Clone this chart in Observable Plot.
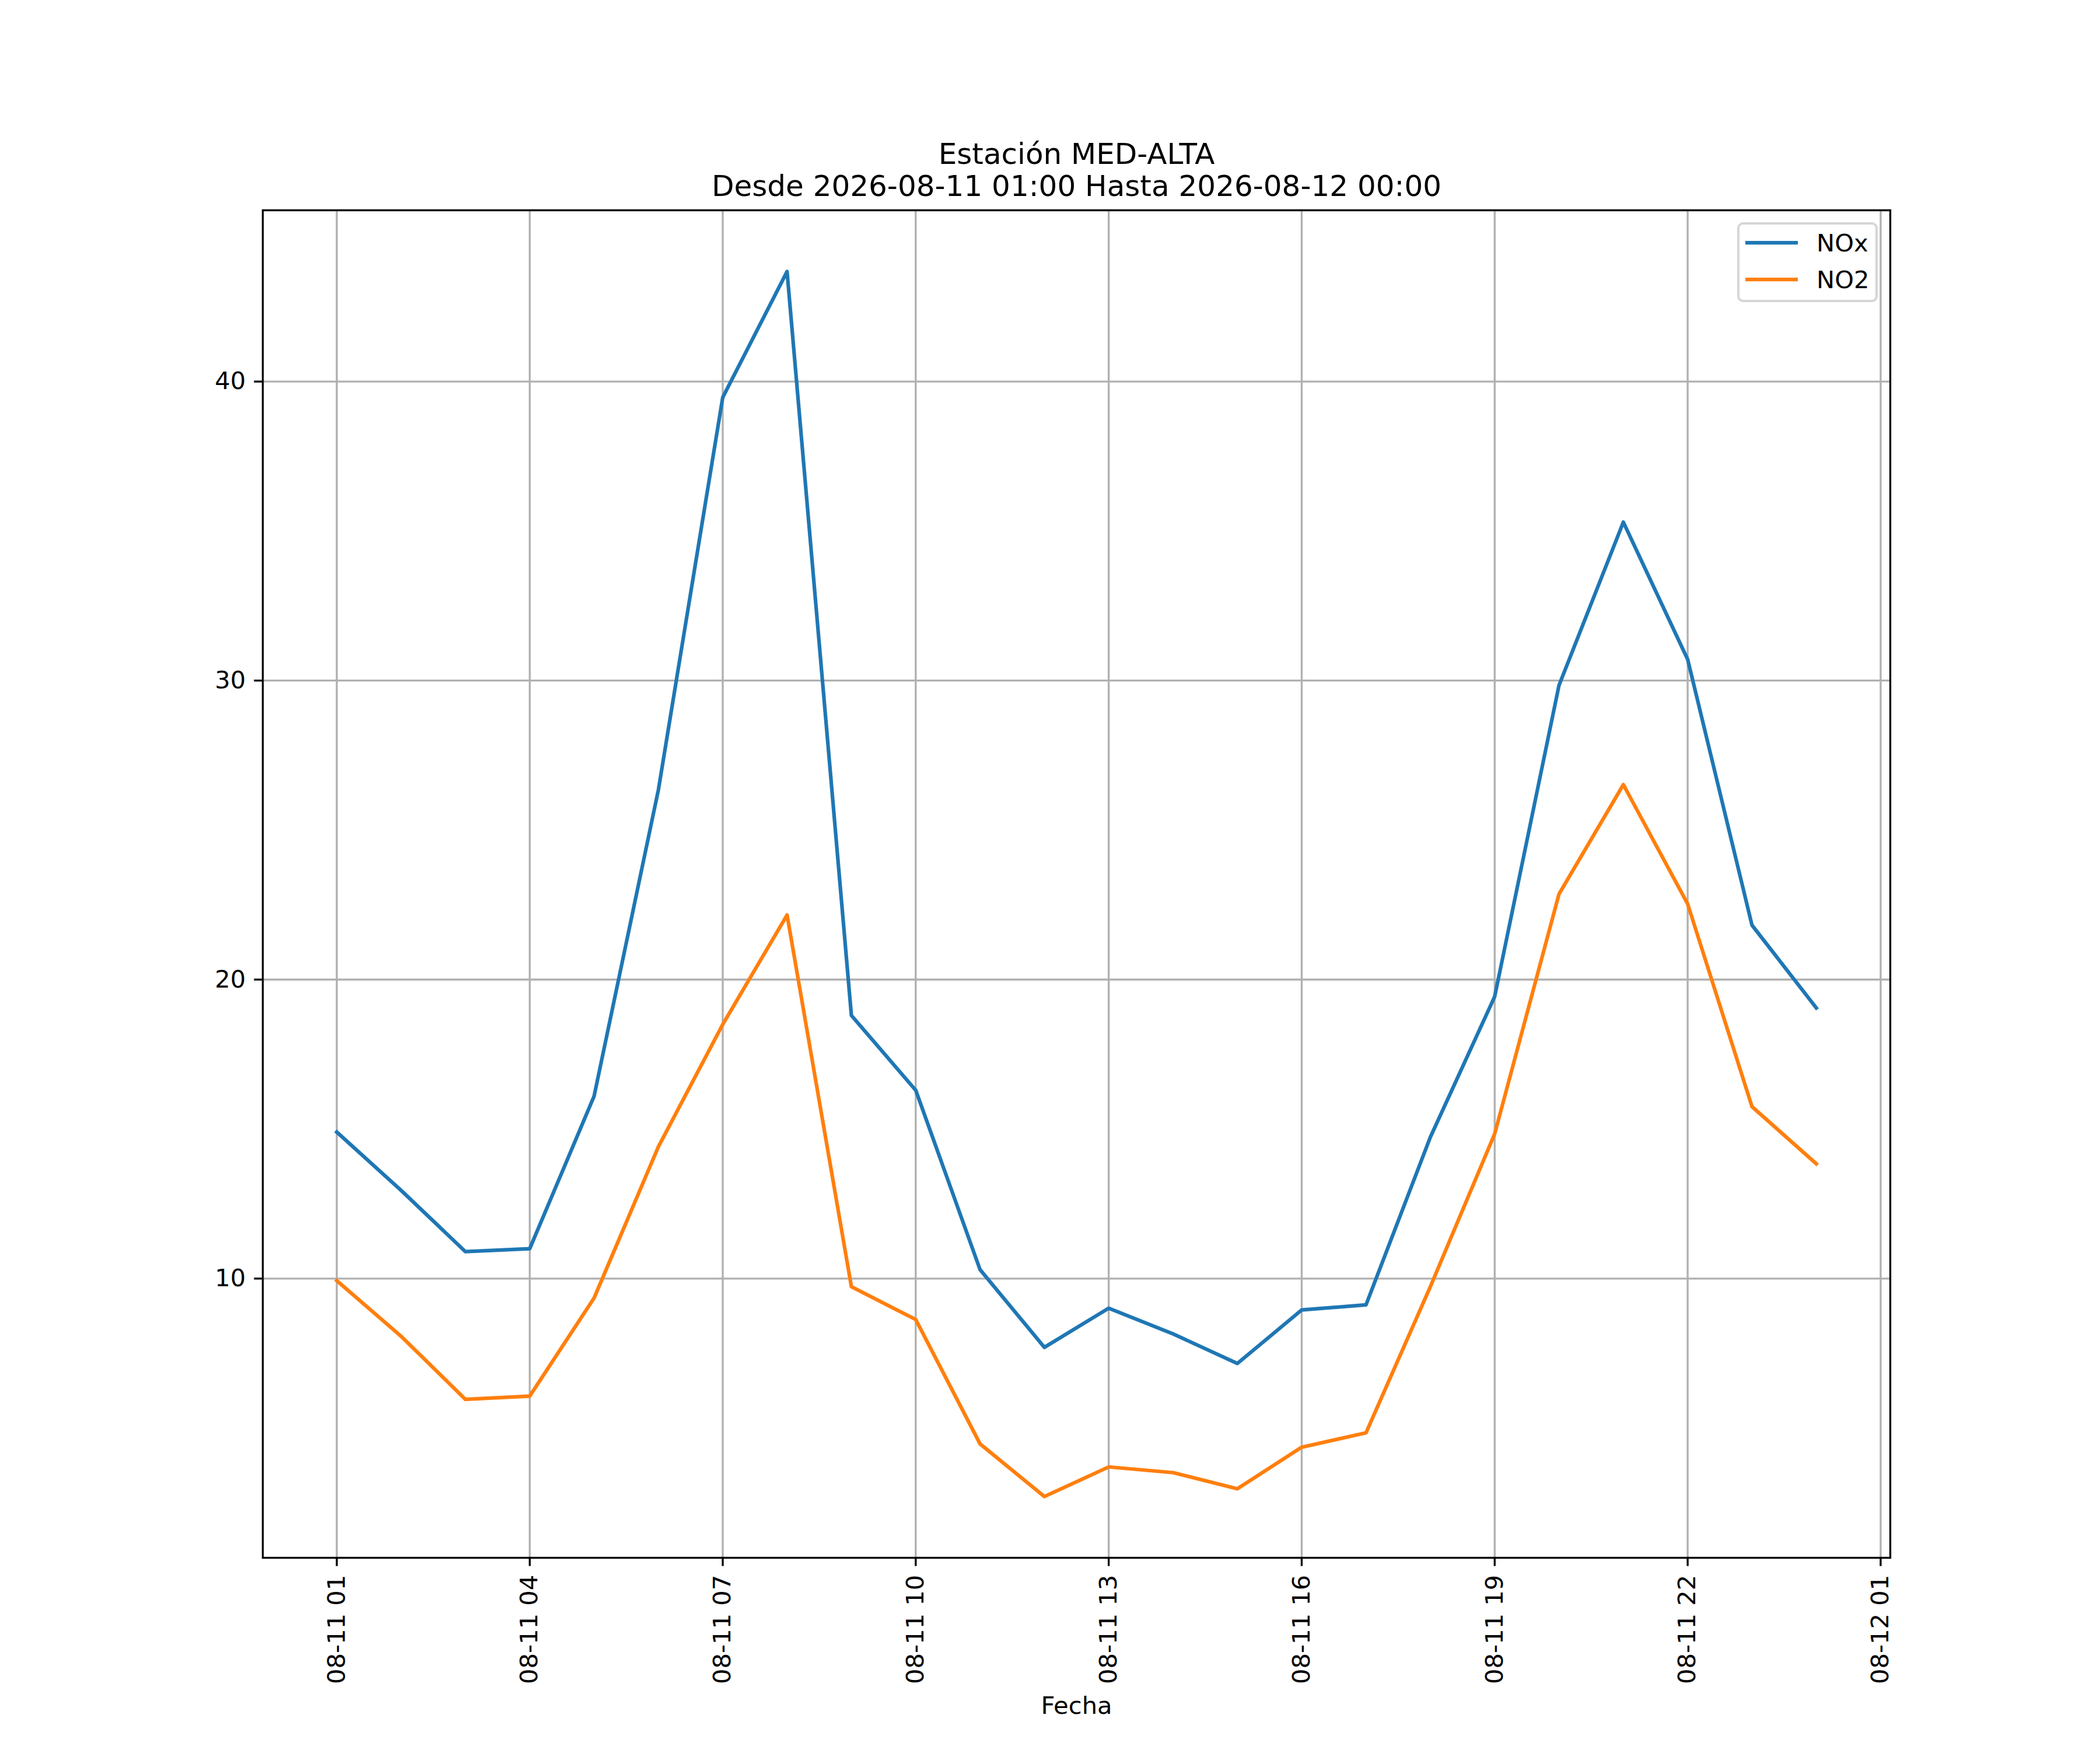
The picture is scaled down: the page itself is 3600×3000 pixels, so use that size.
<!DOCTYPE html>
<html>
<head>
<meta charset="utf-8">
<script src="https://cdn.jsdelivr.net/npm/d3@7"></script>
<script src="https://cdn.jsdelivr.net/npm/@observablehq/plot@0.6"></script>
<style>
  body { margin: 0; background: #ffffff; }
  #chart { position: relative; width: 3600px; height: 3000px; background: #ffffff; font-family: "DejaVu Sans"; }
  #legend { position: absolute; left: 2978px; top: 381px; }
</style>
</head>
<body>
<div id="chart"></div>
<script>
// ---- data ----
const times = [
  "2026-08-11T01:00Z", "2026-08-11T02:00Z", "2026-08-11T03:00Z", "2026-08-11T04:00Z",
  "2026-08-11T05:00Z", "2026-08-11T06:00Z", "2026-08-11T07:00Z", "2026-08-11T08:00Z",
  "2026-08-11T09:00Z", "2026-08-11T10:00Z", "2026-08-11T11:00Z", "2026-08-11T12:00Z",
  "2026-08-11T13:00Z", "2026-08-11T14:00Z", "2026-08-11T15:00Z", "2026-08-11T16:00Z",
  "2026-08-11T17:00Z", "2026-08-11T18:00Z", "2026-08-11T19:00Z", "2026-08-11T20:00Z",
  "2026-08-11T21:00Z", "2026-08-11T22:00Z", "2026-08-11T23:00Z", "2026-08-12T00:00Z"
];
const nox = [14.9, 12.95, 10.9, 11.0, 16.1, 26.35, 39.47, 43.68,
             18.8, 16.3, 10.3, 7.7, 9.01, 8.15, 7.16, 8.95,
             9.12, 14.73, 19.43, 29.84, 35.3, 30.71, 21.82, 19.05];
const no2 = [9.93, 8.07, 5.96, 6.07, 9.35, 14.41, 18.5, 22.16,
             9.73, 8.63, 4.47, 2.71, 3.70, 3.51, 2.97, 4.36,
             4.84, 9.73, 14.84, 22.86, 26.52, 22.53, 15.75, 13.84];
const seriesNames = ["NOx", "NO2"];
const seriesColors = ["#1f77b4", "#ff7f0e"];
const titleLines = ["Estación MED-ALTA", "Desde 2026-08-11 01:00 Hasta 2026-08-12 00:00"];
const xLabel = "Fecha";
const yTicks = [10, 20, 30, 40];
const xTicks = [
  "2026-08-11T01:00Z", "2026-08-11T04:00Z", "2026-08-11T07:00Z", "2026-08-11T10:00Z",
  "2026-08-11T13:00Z", "2026-08-11T16:00Z", "2026-08-11T19:00Z", "2026-08-11T22:00Z",
  "2026-08-12T01:00Z"
];

// ---- build table ----
const dates = times.map(t => new Date(t));
const rows = [];
[nox, no2].forEach((vals, s) => {
  vals.forEach((v, i) => rows.push({time: dates[i], value: v, series: seriesNames[s]}));
});
const xTickDates = xTicks.map(t => new Date(t));

// matplotlib-like autoscale with 5% margins
const pad = (lo, hi) => { const d = (hi - lo) * 0.05; return [lo - d, hi + d]; };
const [t0, t1] = d3.extent(dates, d => +d);
const xDomain = pad(t0, t1).map(v => new Date(v));
const allVals = nox.concat(no2);
const yDomain = pad(d3.min(allVals), d3.max(allVals));

const pt = 300 / 72;  // px per point
const tickFont = 10 * pt;

const chart = Plot.plot({
  width: 3600,
  height: 3000,
  marginLeft: 450,
  marginRight: 360,
  marginTop: 360,
  marginBottom: 330,
  style: {fontFamily: "DejaVu Sans", fontSize: `${tickFont}px`, color: "black", background: "white", overflow: "visible"},
  x: {type: "utc", domain: xDomain},
  y: {domain: yDomain},
  color: {domain: seriesNames, range: seriesColors},
  marks: [
    Plot.gridX(xTickDates, {stroke: "#b0b0b0", strokeOpacity: 1, strokeWidth: 0.8 * pt}),
    Plot.gridY(yTicks, {stroke: "#b0b0b0", strokeOpacity: 1, strokeWidth: 0.8 * pt}),
    Plot.line(rows, {x: "time", y: "value", z: "series", stroke: "series",
      strokeWidth: 1.5 * pt, strokeLinejoin: "round", strokeLinecap: "square"}),
    Plot.frame({stroke: "black", strokeWidth: 0.8 * pt}),
    Plot.axisX(xTickDates, {tickSize: 3.5 * pt, tickPadding: 3.5 * pt, tickRotate: -90,
      tickFormat: d3.utcFormat("%m-%d %H"), fontSize: tickFont, strokeWidth: 0.8 * pt, label: null}),
    Plot.axisY(yTicks, {tickSize: 3.5 * pt, tickPadding: 3.5 * pt, fontSize: tickFont,
      tickFormat: d => String(d), strokeWidth: 0.8 * pt, label: null}),
    Plot.text([titleLines.join("\n")], {frameAnchor: "top", lineAnchor: "bottom", dy: -25,
      fontSize: 12 * pt, lineHeight: 1.086}),
    Plot.text([xLabel], {frameAnchor: "bottom", lineAnchor: "bottom", dy: 267, fontSize: tickFont})
  ]
});
document.getElementById("chart").appendChild(chart);

// ---- legend (upper right, matplotlib style) ----
const lg = d3.select("#chart").append("svg")
  .attr("id", "legend").attr("width", 241).attr("height", 137);
lg.append("rect").attr("x", 2).attr("y", 2).attr("width", 237).attr("height", 133)
  .attr("rx", 8).attr("fill", "white").attr("fill-opacity", 0.8)
  .attr("stroke", "#cccccc").attr("stroke-opacity", 0.8).attr("stroke-width", 4);
seriesNames.forEach((name, i) => {
  const yLine = 35 + i * 63;
  lg.append("line").attr("x1", 14).attr("x2", 104).attr("y1", yLine).attr("y2", yLine)
    .attr("stroke", seriesColors[i]).attr("stroke-width", 1.5 * pt);
  lg.append("text").attr("x", 136).attr("y", yLine + 15)
    .attr("font-family", "DejaVu Sans").attr("font-size", tickFont).attr("fill", "black")
    .text(name);
});
</script>
</body>
</html>
